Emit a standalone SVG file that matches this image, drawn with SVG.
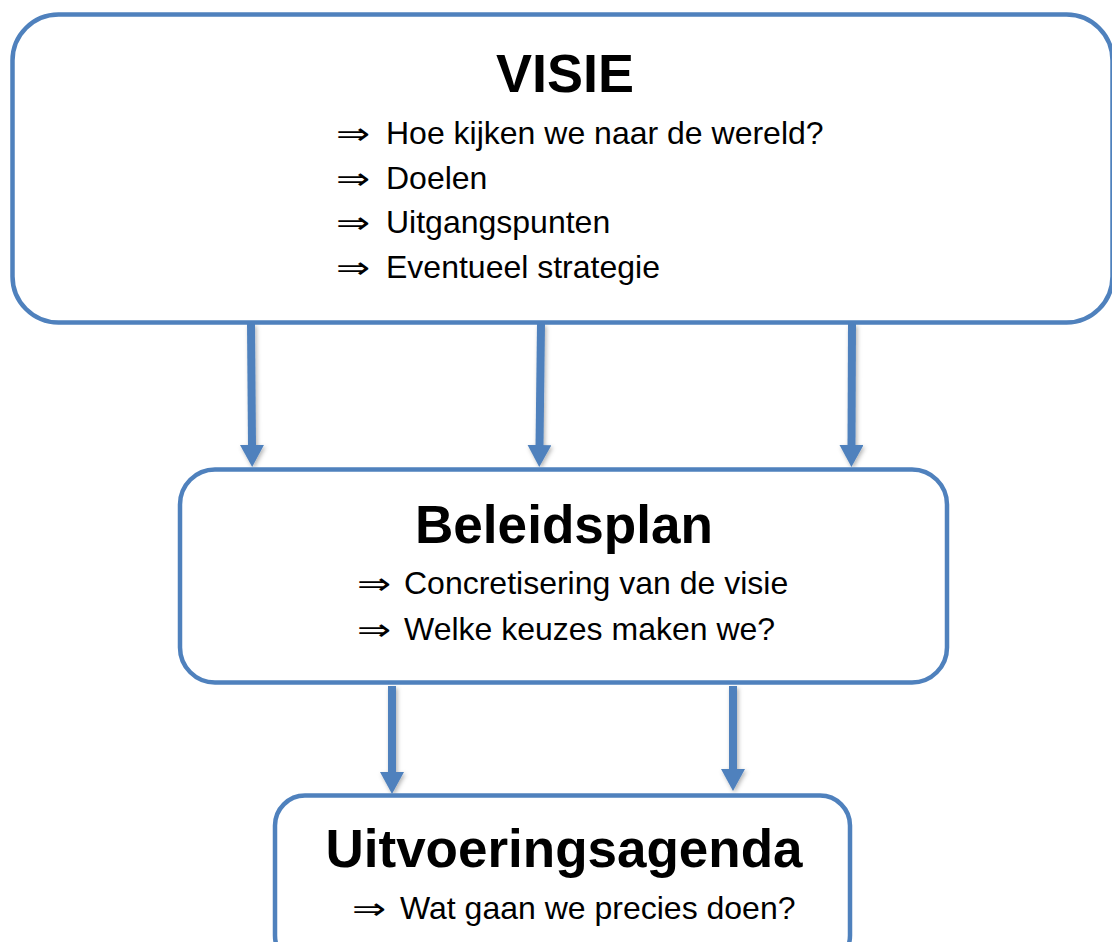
<svg xmlns="http://www.w3.org/2000/svg" width="1112" height="942" viewBox="0 0 1112 942">
  <style>
    .box { fill: #ffffff; stroke: #4F81BD; stroke-width: 4.5; }
    .title { font-family: "Liberation Sans", Arial, sans-serif; font-weight: bold; font-size: 53px; fill: #000; text-anchor: middle; }
    .body { font-family: "Liberation Sans", Arial, sans-serif; font-size: 32px; fill: #000; }
    .sym { font-family: "DejaVu Sans", "Liberation Serif", serif; font-weight: 200; font-size: 30px; fill: #000; }
    .conn { stroke: #4F81BD; stroke-width: 8; fill: none; marker-end: url(#head); }
  </style>
  <defs>
    <marker id="head" viewBox="0 0 22 24" refX="1" refY="12" markerWidth="22" markerHeight="24" markerUnits="userSpaceOnUse" orient="auto">
      <path d="M0,0 L22,12 L0,24 Z" fill="#4F81BD"/>
    </marker>
    <filter id="shadow" filterUnits="userSpaceOnUse" x="0" y="300" width="1112" height="520">
      <feDropShadow dx="1.5" dy="2" stdDeviation="2" flood-color="#000" flood-opacity="0.3"/>
    </filter>
  </defs>

  <g id="connectors" filter="url(#shadow)">
    <line class="conn" x1="251" y1="324" x2="252" y2="446"/>
    <line class="conn" x1="541" y1="324" x2="539.5" y2="446"/>
    <line class="conn" x1="852" y1="324" x2="851.5" y2="446"/>
    <line class="conn" x1="392" y1="686" x2="392" y2="773"/>
    <line class="conn" x1="733" y1="686" x2="733" y2="770"/>
  </g>

  <g id="visie">
    <rect class="box" x="12.5" y="14.5" width="1100" height="308" rx="46" ry="46"/>
    <text class="title" x="565" y="92" textLength="138" lengthAdjust="spacingAndGlyphs">VISIE</text>
    <text class="sym" x="336" y="144" textLength="34" lengthAdjust="spacingAndGlyphs">⇒</text>
    <text class="body" x="386" y="144">Hoe kijken we naar de wereld?</text>
    <text class="sym" x="336" y="189" textLength="34" lengthAdjust="spacingAndGlyphs">⇒</text>
    <text class="body" x="386" y="189">Doelen</text>
    <text class="sym" x="336" y="233" textLength="34" lengthAdjust="spacingAndGlyphs">⇒</text>
    <text class="body" x="386" y="233">Uitgangspunten</text>
    <text class="sym" x="336" y="278" textLength="34" lengthAdjust="spacingAndGlyphs">⇒</text>
    <text class="body" x="386" y="278">Eventueel strategie</text>
  </g>

  <g id="beleidsplan">
    <rect class="box" x="180" y="469.5" width="767" height="213" rx="35" ry="35"/>
    <text class="title" x="564" y="543" textLength="298" lengthAdjust="spacingAndGlyphs">Beleidsplan</text>
    <text class="sym" x="357" y="594" textLength="34" lengthAdjust="spacingAndGlyphs">⇒</text>
    <text class="body" x="404" y="594">Concretisering van de visie</text>
    <text class="sym" x="357" y="640" textLength="34" lengthAdjust="spacingAndGlyphs">⇒</text>
    <text class="body" x="404" y="640">Welke keuzes maken we?</text>
  </g>

  <g id="uitvoeringsagenda">
    <rect class="box" x="275" y="795.5" width="575" height="170" rx="30" ry="30"/>
    <text class="title" x="564" y="867" textLength="477" lengthAdjust="spacingAndGlyphs">Uitvoeringsagenda</text>
    <text class="sym" x="352" y="919" textLength="34" lengthAdjust="spacingAndGlyphs">⇒</text>
    <text class="body" x="400" y="919">Wat gaan we precies doen?</text>
  </g>
</svg>
